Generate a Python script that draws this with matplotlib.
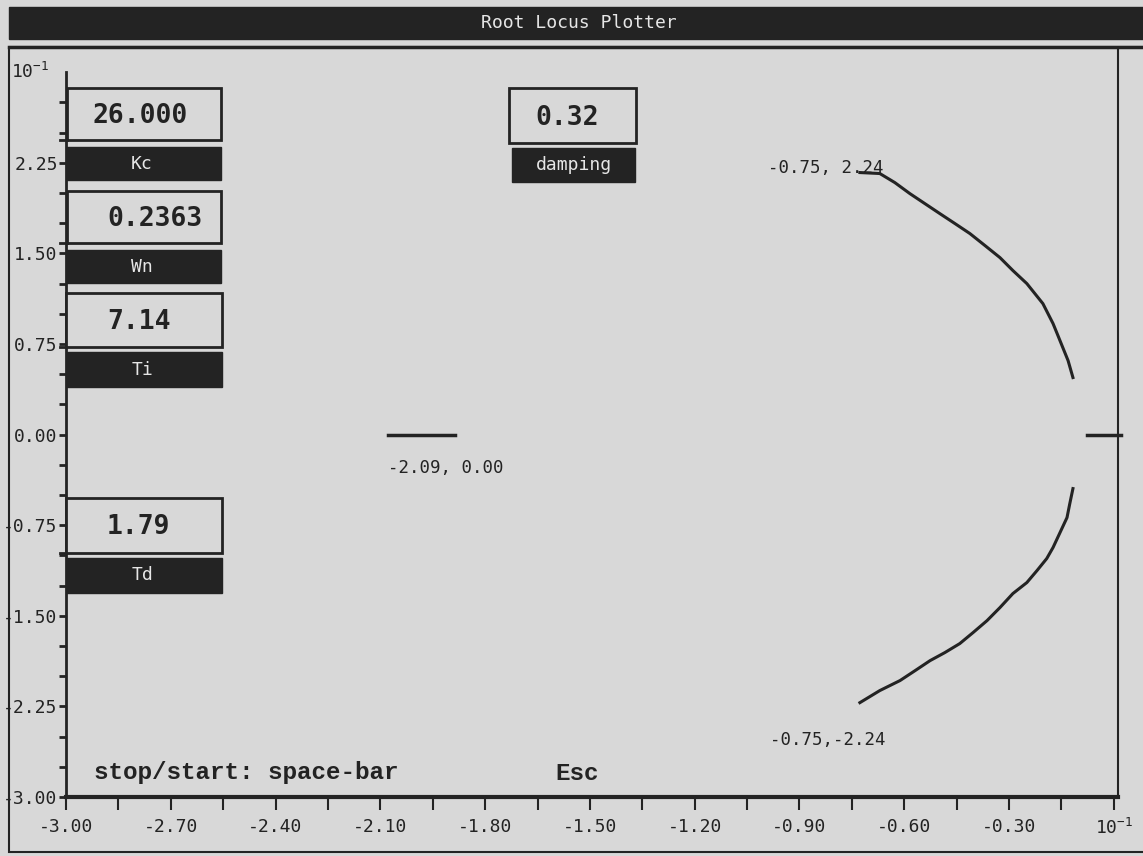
import matplotlib
matplotlib.use("Agg")
import matplotlib.pyplot as plt
from matplotlib.patches import Rectangle

upper_x = [-0.727, -0.670, -0.627, -0.584, -0.541, -0.498, -0.455, -0.412, -0.369, -0.326,
           -0.289, -0.249, -0.226, -0.203, -0.174, -0.160, -0.146, -0.131, -0.117]
upper_y = [2.169, 2.161, 2.086, 1.995, 1.912, 1.829, 1.747, 1.664, 1.565, 1.465,
           1.358, 1.250, 1.167, 1.084, 0.919, 0.820, 0.720, 0.613, 0.472]
lower_x = [-0.117, -0.126, -0.134, -0.154, -0.174, -0.192, -0.220, -0.249, -0.289, -0.326,
           -0.363, -0.403, -0.441, -0.484, -0.526, -0.569, -0.612, -0.670, -0.727]
lower_y = [-0.447, -0.571, -0.687, -0.811, -0.935, -1.026, -1.126, -1.225, -1.316, -1.432,
           -1.540, -1.639, -1.730, -1.805, -1.871, -1.954, -2.036, -2.119, -2.219]
pole_x = [-2.078, -1.886]
pole_y = [0.0, 0.0]
origin_x = [-0.077, 0.020]
origin_y = [0.0, 0.0]

point_labels = ["-0.75, 2.24", "-0.75,-2.24", "-2.09, 0.00"]
point_label_x = [-0.99, -0.985, -2.078]
point_label_y = [2.21, -2.53, -0.28]

x_ticks = [-3.0, -2.7, -2.4, -2.1, -1.8, -1.5, -1.2, -0.9, -0.6, -0.3, 0.0]
y_ticks = [-3.0, -2.25, -1.5, -0.75, 0.0, 0.75, 1.5, 2.25]

param_labels = ["Kc", "Wn", "Ti", "Td", "damping"]
param_values = ["26.000", "0.2363", "7.14", "1.79", "0.32"]

bg = "#d8d8d8"
ink = "#232323"
W, H = 1143, 856

plt.rcParams["font.family"] = "DejaVu Sans Mono"
plt.rcParams["axes.unicode_minus"] = False
plt.rcParams["mathtext.fontset"] = "custom"
plt.rcParams["mathtext.rm"] = "DejaVu Sans Mono"

fig = plt.figure(figsize=(W / 100, H / 100), dpi=100, facecolor=bg)
ax = fig.add_axes([66 / W, (H - 797) / H, 1052 / W, 749 / H], facecolor=bg)

ax.plot(upper_x, upper_y, color=ink, lw=2.2, zorder=4)
ax.plot(lower_x, lower_y, color=ink, lw=2.2, zorder=4)
ax.plot(pole_x, pole_y, color=ink, lw=2.5)
ax.plot(origin_x, origin_y, color=ink, lw=2.5, clip_on=False)
for lab, lx, ly in zip(point_labels, point_label_x, point_label_y):
    ax.text(lx, ly, lab, fontsize=12.5, color=ink, ha="left", va="center", zorder=3)

ax.set_xlim(-3, 0.012)
ax.set_ylim(-3, 3.2)

ax.set_xticks(x_ticks)
ax.set_xticklabels(["%.2f" % v for v in x_ticks[:-1]] + [r"$\mathrm{10^{-1}}$"])
ax.set_xticks([v + 0.15 for v in x_ticks[:-1]], minor=True)
ax.set_yticks(y_ticks)
ax.set_yticklabels(["%.2f" % v for v in y_ticks])
ax.set_yticks([v + d for v in y_ticks for d in (0.25, 0.5)], minor=True)

ax.tick_params(axis="x", which="both", direction="out", length=9, width=1.5,
               pad=6, labelsize=13, colors=ink)
ax.tick_params(axis="y", which="both", direction="out", length=5, width=2,
               pad=1, labelsize=13, colors=ink)

ax.spines["top"].set_visible(False)
ax.spines["left"].set_bounds(-3, 3)
ax.spines["left"].set_linewidth(2)
ax.spines["bottom"].set_linewidth(3)
ax.spines["right"].set_linewidth(1.5)
for s in ax.spines.values():
    s.set_color(ink)

# screen furniture drawn in pixel coordinates
ov = fig.add_axes([0, 0, 1, 1], zorder=5)
ov.set_xlim(0, W)
ov.set_ylim(H, 0)
ov.axis("off")

ov.add_patch(Rectangle((9, 7), W - 9, 32, color=ink))
ov.text(579, 23, "Root Locus Plotter", color="#e6e6e6", fontsize=13,
        ha="center", va="center")
ov.add_patch(Rectangle((9, 47), W, 805, fill=False, ec=ink, lw=1.5))
ov.plot([9, W], [47, 47], color=ink, lw=2.5)

ov.text(30, 72, r"$\mathrm{10^{-1}}$", fontsize=13, color=ink, ha="center", va="center")

value_boxes = [(67, 88, 154, 52), (67, 191, 154, 52), (66, 293, 156, 54),
               (66, 498, 156, 55), (509, 88, 127, 55)]
label_boxes = [(67, 147, 154, 33), (67, 250, 154, 33), (67, 352, 155, 35),
               (67, 558, 155, 35), (512, 148, 123, 34)]
value_x = [92, 107, 107, 107, 535]

for i in range(len(param_labels)):
    bx, by, bw, bh = value_boxes[i]
    ov.add_patch(Rectangle((bx, by), bw, bh, fc=bg, ec=ink, lw=2))
    # short rule under the value box running back to the axis
    if i < 4:
        ov.plot([60, bx], [by + bh, by + bh], color=ink, lw=2)
    ov.text(value_x[i], by + bh / 2 + 2, param_values[i], fontsize=19, weight="bold",
            color=ink, ha="left", va="center")
    lx, ly, lw_, lh = label_boxes[i]
    ov.add_patch(Rectangle((lx, ly), lw_, lh, color=ink))
    ov.text(lx + lw_ / 2 + (0 if i == 4 else -2), ly + lh / 2, param_labels[i],
            fontsize=13, color="#e6e6e6", ha="center", va="center")

ov.text(94, 773, "stop/start: space-bar", family="Liberation Mono", weight="bold",
        fontsize=17.5, color=ink, ha="left", va="center")
ov.text(555, 773, "Esc", family="Liberation Mono", weight="bold",
        fontsize=17.5, color=ink, ha="left", va="center")

fig.savefig("out.png", dpi=100, facecolor=bg)
